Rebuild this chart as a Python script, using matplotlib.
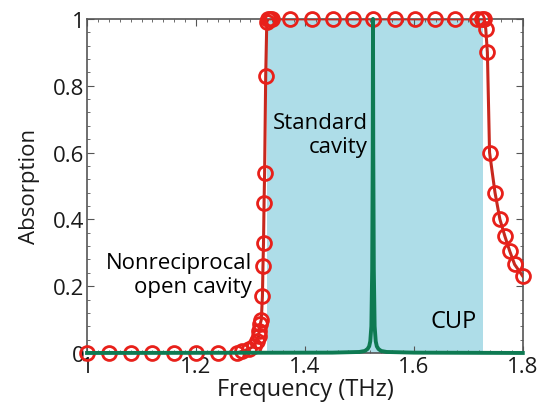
import matplotlib
matplotlib.use("Agg")
import matplotlib.pyplot as plt
from matplotlib.ticker import MultipleLocator

plt.rcParams['font.family'] = ['Open Sans', 'DejaVu Sans']

# nonreciprocal open cavity (red circles)
freq_open = [1.00, 1.04, 1.08, 1.12, 1.16, 1.20, 1.24, 1.275, 1.285, 1.297,
             1.306, 1.312, 1.315, 1.316, 1.318, 1.320, 1.322, 1.323, 1.324,
             1.325, 1.326, 1.328, 1.330, 1.332, 1.335, 1.340, 1.372, 1.413,
             1.451, 1.488, 1.525, 1.565, 1.602, 1.639, 1.675, 1.716, 1.725,
             1.729, 1.732, 1.735, 1.739, 1.749, 1.758, 1.767, 1.776, 1.785, 1.80]
abs_open = [0.0, 0.0, 0.0, 0.0, 0.0, 0.0, 0.0, 0.0, 0.005, 0.012,
            0.02, 0.036, 0.05, 0.066, 0.087, 0.10, 0.17, 0.26, 0.33,
            0.45, 0.54, 0.83, 0.99, 1.0, 1.0, 1.0, 1.0, 1.0,
            1.0, 1.0, 1.0, 1.0, 1.0, 1.0, 1.0, 1.0, 1.0,
            1.0, 0.97, 0.90, 0.60, 0.48, 0.40, 0.35, 0.305, 0.265, 0.23]

# standard cavity (green resonance)
freq_std = [1.00, 1.45, 1.50, 1.510, 1.515, 1.518, 1.520, 1.522, 1.5235,
            1.5245, 1.525, 1.5255, 1.5265, 1.528, 1.530, 1.532, 1.535,
            1.540, 1.550, 1.60, 1.80]
abs_std = [0.0, 0.001, 0.003, 0.006, 0.012, 0.02, 0.035, 0.08, 0.25,
           0.6, 1.0, 0.6, 0.25, 0.08, 0.035, 0.02, 0.012,
           0.006, 0.003, 0.001, 0.0]

# CUP band
cup_band = (1.33, 1.727)

fig = plt.figure(figsize=(5.44, 4.14), dpi=100)
ax = fig.add_axes([0.16, 0.145, 0.801, 0.807])

ax.axvspan(cup_band[0], cup_band[1], color='#aedde8', zorder=1, lw=0)
ax.plot(freq_open, abs_open, '-', color='#c8281e', lw=2.2, zorder=3)
ax.plot(freq_open, abs_open, 'o', mfc='none', mec='#e8201a', ms=10, mew=2,
        zorder=4, clip_on=False)
ax.plot(freq_std, abs_std, '-', color='#0e7a52', lw=2.8, zorder=5,
        clip_on=False)

ax.set_xlim(1, 1.8)
ax.set_ylim(0, 1)
ax.set_xticks([1, 1.2, 1.4, 1.6, 1.8])
ax.set_xticklabels(['1', '1.2', '1.4', '1.6', '1.8'])
ax.set_yticks([0, 0.2, 0.4, 0.6, 0.8, 1])
ax.set_yticklabels(['0', '0.2', '0.4', '0.6', '0.8', '1'])
ax.xaxis.set_minor_locator(MultipleLocator(0.02))
ax.yaxis.set_minor_locator(MultipleLocator(0.04))
ax.tick_params(which='both', direction='in', top=True, right=True,
               color='#555555', labelsize=16, pad=2, labelcolor='#1a1a1a')
ax.tick_params(which='major', length=5, width=0.8)
ax.tick_params(which='minor', length=2.5, width=0.6)
for s in ax.spines.values():
    s.set_color('#555555')
    s.set_linewidth(1.2)

ax.set_xlabel('Frequency (THz)', fontsize=17, labelpad=0, color='#1a1a1a')
ax.set_ylabel('Absorption', fontsize=16, labelpad=9, color='#1a1a1a')

ax.text(1.515, 0.655, 'Standard\ncavity', fontsize=16, ha='right',
        va='center', linespacing=1.2, zorder=6)
ax.text(1.303, 0.236, 'Nonreciprocal\nopen cavity', fontsize=16, ha='right',
        va='center', linespacing=1.2, zorder=6)
ax.text(1.673, 0.095, 'CUP', fontsize=17, ha='center', va='center', zorder=6)

fig.savefig('out.png', dpi=100)
